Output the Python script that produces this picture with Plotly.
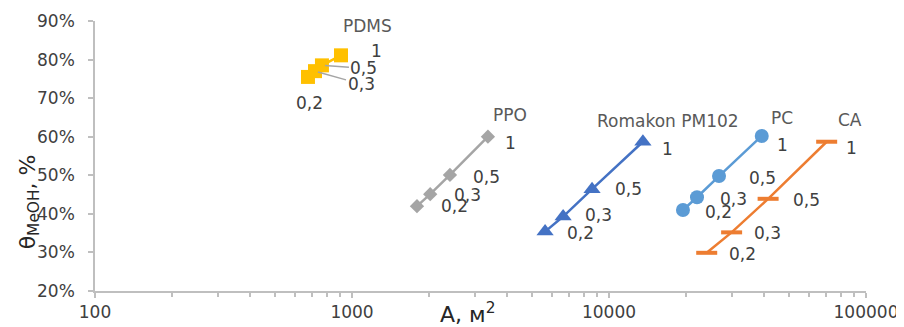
import math
import plotly.graph_objects as go

# ---- data ----
ratios = ["0,2", "0,3", "0,5", "1"]

pdms_area = [674, 718, 764, 906]
pdms_theta = [0.755, 0.770, 0.785, 0.811]

ppo_area = [1790, 2015, 2405, 3380]
ppo_theta = [0.420, 0.451, 0.501, 0.600]

romakon_area = [5640, 6630, 8590, 13550]
romakon_theta = [0.354, 0.393, 0.464, 0.587]

pc_area = [19400, 22000, 26800, 39300]
pc_theta = [0.410, 0.443, 0.498, 0.602]

ca_area = [24000, 30000, 41600, 70300]
ca_theta = [0.299, 0.352, 0.439, 0.587]

series_names = ["PDMS", "PPO", "Romakon PM102", "PC", "CA"]
x_tick_vals = [100, 1000, 10000, 100000]
x_tick_text = ["100", "1000", "10000", "100000"]

# ---- styles ----
styles = [
    dict(color="#FFC000", symbol="square", size=14, lw=2.5, mline=0),
    dict(color="#A5A5A5", symbol="diamond", size=11, lw=2.5, mline=0),
    dict(color="#4472C4", symbol="triangle-up", size=15, lw=2.5, mline=0),
    dict(color="#5B9BD5", symbol="circle", size=14, lw=2.5, mline=0),
    dict(color="#ED7D31", symbol="line-ew", size=15, lw=2.5, mline=4),
]

# label offsets (pixels) for points 0.2, 0.3, 0.5, 1 and series name
label_offsets = [
    [(2, -26), None, None, (36, 4)],
    [(38, 0), (37, -1), (37, -2), (23, -6)],
    [(35, -1), (35, 2), (36, 0), (25, -7)],
    [(36, -2), (36, -2), (43, -2), (21, -9)],
    [(36, -1), (36, -1), (38, -1), (25, -6)],
]
name_offsets = [(27, 29), (22, 22), (25, 21), (20, 18), (23, 22)]
# PDMS leader-line labels (index: (ax, ay))
pdms_arrows = {1: (46, 13), 2: (42, 3)}

all_x = [pdms_area, ppo_area, romakon_area, pc_area, ca_area]
all_y = [pdms_theta, ppo_theta, romakon_theta, pc_theta, ca_theta]

fig = go.Figure()
label_font = dict(family="DejaVu Sans", size=17, color="#404040")
name_font = dict(family="DejaVu Sans", size=17, color="#595959")

annotations = []
for i, (xs, ys, st) in enumerate(zip(all_x, all_y, styles)):
    marker = dict(symbol=st["symbol"], size=st["size"], color=st["color"])
    if st["mline"]:
        marker["line"] = dict(width=st["mline"], color=st["color"])
    fig.add_trace(go.Scatter(
        x=xs, y=ys, mode="lines+markers", name=series_names[i],
        line=dict(color=st["color"], width=st["lw"]),
        marker=marker, showlegend=False,
    ))
    for j, lab in enumerate(ratios):
        off = label_offsets[i][j]
        lx = math.log10(xs[j])  # annotations on log axes use log10 coords
        if off is not None:
            annotations.append(dict(
                x=lx, y=ys[j], xref="x", yref="y", text=lab,
                showarrow=False, xshift=off[0], yshift=off[1], font=label_font,
            ))
        elif i == 0 and j in pdms_arrows:
            ax, ay = pdms_arrows[j]
            annotations.append(dict(
                x=lx, y=ys[j], xref="x", yref="y", text=lab,
                showarrow=True, arrowhead=0, arrowwidth=1.5, arrowcolor="#A5A5A5",
                ax=ax, ay=ay, standoff=3,
                font=label_font,
            ))
    nx, ny = name_offsets[i]
    annotations.append(dict(
        x=math.log10(xs[-1]), y=ys[-1], xref="x", yref="y", text=series_names[i],
        showarrow=False, xshift=nx, yshift=ny, font=name_font,
    ))

# axis titles
annotations.append(dict(
    xref="paper", yref="paper", x=0.4825, y=-0.08, text="A, м<sup>2</sup>",
    showarrow=False, font=dict(family="DejaVu Sans", size=22, color="#262626"),
    xanchor="center", yanchor="middle",
))
annotations.append(dict(
    xref="paper", yref="paper", x=-0.085, y=0.33, text="θ<sub>MeOH</sub>, %",
    showarrow=False, textangle=-90,
    font=dict(family="DejaVu Sans", size=22, color="#262626"),
    xanchor="center", yanchor="middle",
))

axis_color = "#BFBFBF"
fig.update_layout(
    width=896, height=319,
    margin=dict(l=87, r=38, t=13, b=36),
    paper_bgcolor="white", plot_bgcolor="white",
    annotations=annotations,
    xaxis=dict(
        type="log", range=[2, 5], tickvals=x_tick_vals, ticktext=x_tick_text,
        automargin=False,
        showgrid=False, zeroline=False, showline=True, linecolor=axis_color, linewidth=1.5,
        ticks="outside", ticklen=5, tickcolor=axis_color, tickwidth=1.5,
        minor=dict(ticks="outside", ticklen=4, tickcolor=axis_color, tickwidth=1.5,
                   dtick="D1", showgrid=False),
        tickfont=dict(family="DejaVu Sans", size=17, color="#404040"),
    ),
    yaxis=dict(
        range=[0.2, 0.9], dtick=0.1, tickformat=".0%",
        automargin=False,
        showgrid=False, zeroline=False, showline=True, linecolor=axis_color, linewidth=1.5,
        ticks="outside", ticklen=5, tickcolor=axis_color, tickwidth=1.5,
        ticklabelstandoff=10,
        tickfont=dict(family="DejaVu Sans", size=17, color="#404040"),
    ),
)

fig.write_html("out.html")
